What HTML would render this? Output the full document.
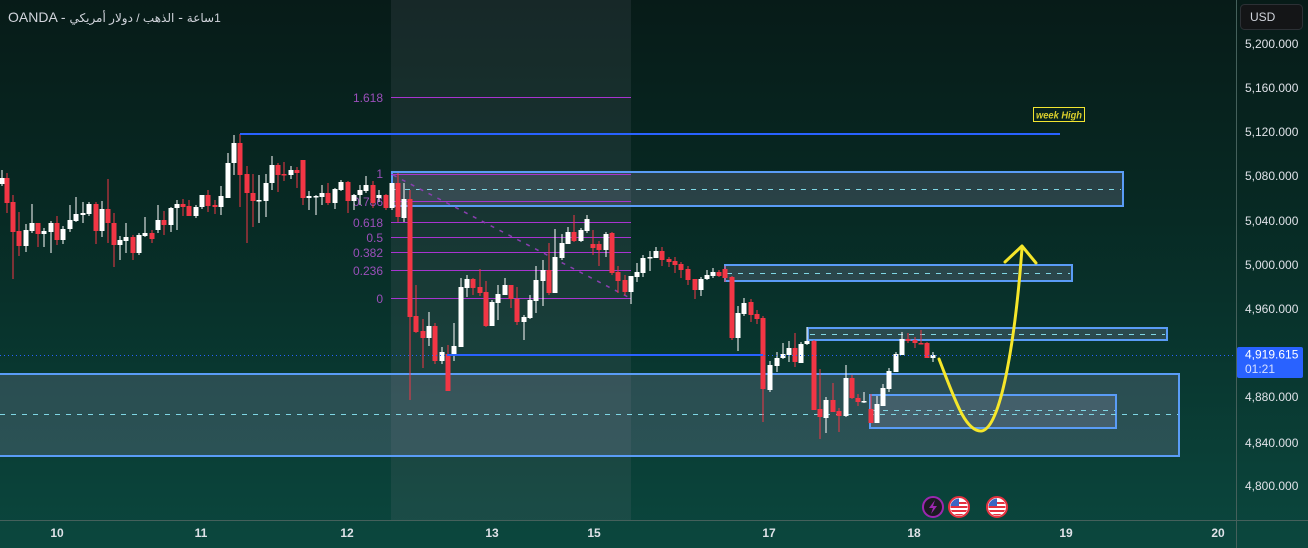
<!DOCTYPE html>
<html>
<head>
<meta charset="utf-8">
<style>
html,body{margin:0;padding:0;width:1308px;height:548px;overflow:hidden;background:#082420;}
svg{display:block;position:absolute;left:0;top:0;}
text{font-family:"Liberation Sans","DejaVu Sans",sans-serif;}
#title{position:absolute;left:8px;top:9px;font-size:14px;line-height:16px;color:#d1d4dc;font-family:"Liberation Sans","DejaVu Sans",sans-serif;white-space:nowrap;direction:ltr;}
#title bdi{font-size:12px;}
</style>
</head>
<body>
<svg id="c" width="1308" height="548" viewBox="0 0 1308 548" xmlns="http://www.w3.org/2000/svg">
<defs>
<linearGradient id="bg" x1="0" y1="0" x2="0" y2="1">
<stop offset="0" stop-color="#071b18"/>
<stop offset="0.4" stop-color="#072a24"/>
<stop offset="1" stop-color="#0b473e"/>
</linearGradient>
<clipPath id="fc"><circle cx="0" cy="0" r="8.5"/></clipPath>
</defs>
<rect width="1308" height="548" fill="url(#bg)"/>

<!-- shaded vertical region -->
<rect x="391" y="0" width="240" height="520" fill="rgba(120,123,134,0.15)"/>

<!-- boxes -->
<g fill="rgba(150,145,185,0.24)" stroke="#5a9cf6" stroke-width="2">
<rect x="-5" y="374" width="1184" height="82"/>
<rect x="870" y="395" width="246" height="33"/>
<rect x="392" y="172" width="731" height="34"/>
<rect x="725" y="265" width="347" height="16"/>
<rect x="808" y="328" width="359" height="12"/>
</g>
<g stroke="#7fd6e4" stroke-width="1" stroke-dasharray="5 6" fill="none">
<line x1="0" y1="414.5" x2="1178" y2="414.5"/>
<line x1="872" y1="410.5" x2="1115" y2="410.5"/>
<line x1="394" y1="189.5" x2="1121" y2="189.5"/>
<line x1="727" y1="273.5" x2="1070" y2="273.5"/>
<line x1="810" y1="334.5" x2="1165" y2="334.5"/>
</g>

<!-- fib lines -->
<g stroke="#a834d0" stroke-width="1">
<line x1="391" y1="97.5" x2="631" y2="97.5"/>
<line x1="391" y1="174.5" x2="631" y2="174.5"/>
<line x1="391" y1="201.5" x2="631" y2="201.5"/>
<line x1="391" y1="222.5" x2="631" y2="222.5"/>
<line x1="391" y1="237.5" x2="631" y2="237.5"/>
<line x1="391" y1="252.5" x2="631" y2="252.5"/>
<line x1="391" y1="270.5" x2="631" y2="270.5"/>
<line x1="391" y1="298.5" x2="631" y2="298.5"/>
</g>
<g font-size="12" fill="#9b4fba" text-anchor="end">
<text x="383" y="102">1.618</text>
<text x="383" y="178">1</text>
<text x="383" y="206">0.786</text>
<text x="383" y="227">0.618</text>
<text x="383" y="242">0.5</text>
<text x="383" y="257">0.382</text>
<text x="383" y="275">0.236</text>
<text x="383" y="303">0</text>
</g>
<line x1="393" y1="175" x2="630" y2="298" stroke="#8a3fb0" stroke-width="1.5" stroke-dasharray="4 6"/>

<!-- candles -->
<g id="candles"></g>

<!-- blue lines -->
<line x1="240" y1="134" x2="1060" y2="134" stroke="#2962ff" stroke-width="2"/>
<line x1="447" y1="355" x2="763" y2="355" stroke="#2962ff" stroke-width="2"/>
<line x1="0" y1="355.5" x2="1236" y2="355.5" stroke="#2962ff" stroke-width="1" stroke-dasharray="1 3"/>

<!-- week high label -->
<rect x="1033.5" y="107.5" width="51" height="14" fill="none" stroke="#f2e531" stroke-width="1"/>
<text x="1036" y="118.5" font-size="10" font-style="italic" font-weight="bold" fill="#d8cd2c" textLength="46" lengthAdjust="spacingAndGlyphs">week High</text>

<!-- yellow projection -->
<path d="M939,359 C955,400 965,431 981,431 C1002,430 1016,330 1022,248" fill="none" stroke="#f5e62a" stroke-width="3" stroke-linecap="round"/>
<polyline points="1005,262 1022,246 1036,263" fill="none" stroke="#f5e62a" stroke-width="3" stroke-linecap="round" stroke-linejoin="round"/>

<!-- event icons -->
<g transform="translate(933,507)">
<circle r="10" fill="#1b1b22" stroke="#9c27b0" stroke-width="2"/>
<polygon points="2,-7 -4,1 0,1 -2,7 4,-1 0,-1" fill="#9c27b0"/>
</g>
<g transform="translate(959,507)">
<circle r="10" fill="#ffffff" stroke="#e5303f" stroke-width="2"/>
<g clip-path="url(#fc)">
<rect x="-9" y="-9" width="18" height="18" fill="#ffffff"/>
<rect x="-9" y="-5" width="18" height="2" fill="#e5303f"/>
<rect x="-9" y="-1" width="18" height="2" fill="#e5303f"/>
<rect x="-9" y="3" width="18" height="2" fill="#e5303f"/>
<rect x="-9" y="7" width="18" height="2" fill="#e5303f"/>
<rect x="-9" y="-9" width="9" height="8" fill="#3b66c4"/>
</g>
</g>
<g transform="translate(997,507)">
<circle r="10" fill="#ffffff" stroke="#e5303f" stroke-width="2"/>
<g clip-path="url(#fc)">
<rect x="-9" y="-9" width="18" height="18" fill="#ffffff"/>
<rect x="-9" y="-5" width="18" height="2" fill="#e5303f"/>
<rect x="-9" y="-1" width="18" height="2" fill="#e5303f"/>
<rect x="-9" y="3" width="18" height="2" fill="#e5303f"/>
<rect x="-9" y="7" width="18" height="2" fill="#e5303f"/>
<rect x="-9" y="-9" width="9" height="8" fill="#3b66c4"/>
</g>
</g>

<!-- axes separators -->
<line x1="0" y1="520.5" x2="1308" y2="520.5" stroke="#45605b" stroke-width="1"/>
<line x1="1236.5" y1="0" x2="1236.5" y2="548" stroke="#45605b" stroke-width="1"/>

<!-- price axis labels -->
<g font-size="12" fill="#dfe2e8">
<text x="1245" y="48">5,200.000</text>
<text x="1245" y="92">5,160.000</text>
<text x="1245" y="136">5,120.000</text>
<text x="1245" y="180">5,080.000</text>
<text x="1245" y="225">5,040.000</text>
<text x="1245" y="269">5,000.000</text>
<text x="1245" y="313">4,960.000</text>
<text x="1245" y="401">4,880.000</text>
<text x="1245" y="447">4,840.000</text>
<text x="1245" y="490">4,800.000</text>
</g>

<!-- current price tag -->
<rect x="1237" y="347" width="66" height="31" rx="2" fill="#2962ff"/>
<text x="1245" y="358.5" font-size="12" fill="#ffffff">4,919.615</text>
<text x="1245" y="373" font-size="12" fill="#d6e0ff">01:21</text>

<!-- USD button -->
<rect x="1240.5" y="4.5" width="62" height="25" rx="4" fill="#141517" stroke="#2c3035" stroke-width="1"/>
<text x="1250" y="21" font-size="12" fill="#d1d4dc">USD</text>

<!-- time axis -->
<g font-size="12" font-weight="bold" fill="#dfe2e8" text-anchor="middle">
<text x="57" y="537">10</text>
<text x="201" y="537">11</text>
<text x="347" y="537">12</text>
<text x="492" y="537">13</text>
<text x="594" y="537">15</text>
<text x="769" y="537">17</text>
<text x="914" y="537">18</text>
<text x="1066" y="537">19</text>
<text x="1218" y="537">20</text>
</g>
</svg>

<div id="title">OANDA - <bdi>الذهب / دولار أمريكي</bdi> - <bdi>1ساعة</bdi></div>

<script>
(function(){
var d=[
[2,0,178,184,170,186],[7,1,178,203,173,213],[13,1,202,232,195,279],[19,1,231,246,212,256],
[26,0,230,246,224,252],[32,0,223,231,204,233],[38,1,223,234,223,247],[44,0,231,234,228,247],
[51,0,223,232,221,253],[57,1,223,240,216,245],[63,0,229,240,226,244],[70,0,220,229,205,232],
[76,0,214,221,197,222],[83,0,213,215,202,223],[89,0,204,214,202,216],[96,1,204,231,202,244],
[102,0,209,231,201,237],[108,1,209,223,179,243],[114,1,223,245,213,267],[120,0,240,245,236,260],
[126,0,237,241,223,253],[133,1,237,253,235,260],[139,0,235,253,233,255],[145,0,233,236,217,237],
[152,1,233,239,230,243],[158,0,220,230,205,233],[164,1,220,225,211,235],[171,0,208,225,207,232],
[177,0,204,208,200,230],[183,1,204,207,199,216],[189,1,206,216,200,216],[196,0,207,216,205,218],
[202,0,195,207,195,209],[208,1,195,206,190,212],[215,1,205,207,200,214],[221,0,196,207,186,215],
[228,0,163,198,153,198],[234,0,143,163,135,175],[240,1,143,175,134,207],[247,1,174,193,166,243],
[253,1,193,201,174,227],[259,0,200,201,175,223],[266,0,183,201,174,217],[272,0,165,183,156,190],
[278,1,165,175,163,192],[284,1,174,175,162,181],[291,0,170,175,166,179],[297,1,170,173,167,188],
[303,1,160,198,160,205],[309,0,196,198,191,210],[316,0,196,197,195,215],[322,0,193,197,185,205],
[328,1,193,203,183,205],[335,0,189,203,188,209],[341,0,182,190,180,191],[348,1,182,201,181,213],
[354,0,195,201,194,210],[360,0,190,195,185,205],[366,0,185,191,176,193],[373,1,185,203,181,208],
[379,0,195,198,190,202],[386,1,195,208,194,210],[392,0,183,208,183,210],[398,1,183,217,173,222],
[404,0,199,218,183,222],
[410,1,199,317,190,400],[416,1,316,332,285,333],[423,1,331,338,319,368],[429,0,326,338,312,346],
[435,1,326,361,323,364],[442,0,352,361,347,364],[448,1,354,391,345,391],[454,0,346,355,323,361],
[461,0,287,347,278,347],[467,0,279,288,275,297],[473,1,279,288,278,295],[480,1,287,293,269,296],
[486,1,292,326,281,327],[492,0,302,326,300,326],[498,0,294,303,285,320],[505,0,285,295,278,295],
[511,1,285,299,285,308],[517,1,299,322,287,325],[524,0,317,322,315,340],[530,0,300,318,295,319],
[536,0,280,301,266,313],[543,0,270,281,260,306],[549,1,270,293,243,295],[555,0,257,293,229,293],
[562,0,243,258,234,260],[568,0,232,244,227,244],[574,1,232,241,215,242],[581,0,230,241,228,242],
[587,0,219,231,215,233],[593,1,244,248,230,255],[599,1,244,250,241,266],[606,0,234,250,232,257],
[612,1,233,273,232,275],[618,1,272,281,266,293],[625,1,280,292,275,295],[631,0,276,292,276,304],
[637,0,272,277,263,282],[643,0,258,273,255,277],[650,0,257,258,251,271],[656,0,251,258,247,258],
[662,1,251,260,247,266],[669,1,259,262,257,267],[675,1,261,265,257,273],[681,1,264,270,262,278],
[688,1,269,280,266,285],[695,1,279,290,279,299],[701,0,279,290,277,296],[707,0,275,279,270,280],
[713,0,272,276,268,278],[719,1,272,276,270,277],[725,1,269,278,266,282],[732,1,277,338,276,340],
[738,0,313,338,306,351],[744,0,303,314,298,316],[751,1,302,315,299,322],[757,1,314,319,310,324],
[763,1,318,389,316,422],[770,0,365,390,361,392],[777,0,358,366,352,372],[783,0,354,358,343,359],
[789,0,348,355,341,362],[795,1,348,362,333,367],[801,0,344,363,342,363],[807,0,341,344,327,345],
[814,1,341,410,340,410],[820,1,409,417,369,439],[826,0,400,418,397,433],[833,1,400,412,383,412],
[839,1,411,416,408,432],[846,0,378,416,365,417],[852,1,378,398,375,399],[858,1,398,402,394,406],
[864,0,401,402,392,403],[871,1,409,423,394,423],[877,0,404,423,396,423],[883,0,388,406,384,406],
[889,0,371,389,368,392],[896,0,354,372,352,372],[902,0,339,355,332,355],[908,1,339,341,333,343],
[915,1,340,343,337,348],[921,1,343,344,330,344],[927,1,343,358,342,358],[933,0,355,358,352,362]
];
var s='';
for(var i=0;i<d.length;i++){
  var c=d[i],col=c[1]?'#f23645':'#ffffff';
  var bt=c[2],bb=c[3];if(bb-bt<1.5){bb=bt+1.5;}
  s+='<rect x="'+(c[0]-0.5)+'" y="'+c[4]+'" width="1" height="'+(c[5]-c[4])+'" fill="'+col+'"/>';
  s+='<rect x="'+(c[0]-2.5)+'" y="'+bt+'" width="5" height="'+(bb-bt)+'" fill="'+col+'"/>';
}
document.getElementById('candles').innerHTML=s;
})();
</script>
</body>
</html>
